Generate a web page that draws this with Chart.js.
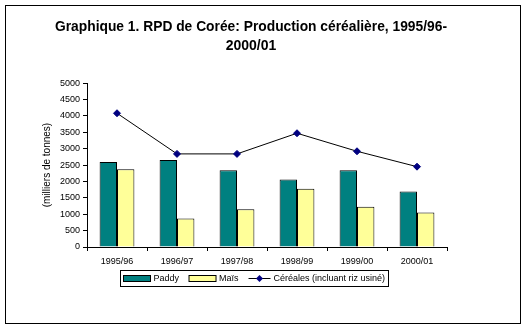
<!DOCTYPE html>
<html>
<head>
<meta charset="utf-8">
<script src="https://cdn.jsdelivr.net/npm/chart.js@4.4.0/dist/chart.umd.min.js"></script>
<style>
  html, body { margin: 0; padding: 0; background: #fff; }
  #wrap { width: 526px; height: 329px; position: relative; }
</style>
</head>
<body>
<div id="wrap"><canvas id="chart"></canvas></div>
<script>
// Données (milliers de tonnes)
const campagnes = ['1995/96', '1996/97', '1997/98', '1998/99', '1999/00', '2000/01'];
const paddy = [2590, 2650, 2340, 2060, 2340, 1690];
const mais = [2370, 870, 1150, 1780, 1230, 1050];
const cereales = [4080, 2840, 2840, 3470, 2920, 2450];
const yTicks = [0, 500, 1000, 1500, 2000, 2500, 3000, 3500, 4000, 4500, 5000];

const FONT = 'Arial, "Liberation Sans", sans-serif';

// Cadre extérieur + légende encadrée
const cadre = {
  id: 'cadre',
  afterDraw(chart) {
    const ctx = chart.ctx;
    ctx.save();
    ctx.strokeStyle = '#000';
    ctx.lineWidth = 1;
    ctx.strokeRect(5.5, 5.5, 515, 318);

    // légende
    const box = { x: 120.5, y: 270.5, w: 268, h: 16 };
    ctx.fillStyle = '#fff';
    ctx.fillRect(box.x, box.y, box.w, box.h);
    ctx.strokeRect(box.x, box.y, box.w, box.h);
    ctx.font = '9px ' + FONT;
    ctx.textBaseline = 'middle';
    const cy = box.y + box.h / 2;
    let x = box.x + 3;
    chart.data.datasets.forEach((ds) => {
      if (ds.type === 'line') {
        ctx.strokeStyle = '#000';
        ctx.beginPath();
        ctx.moveTo(x, cy);
        ctx.lineTo(x + 22, cy);
        ctx.stroke();
        ctx.fillStyle = ds.pointBackgroundColor;
        ctx.beginPath();
        ctx.moveTo(x + 11, cy - 3.5);
        ctx.lineTo(x + 14.5, cy);
        ctx.lineTo(x + 11, cy + 3.5);
        ctx.lineTo(x + 7.5, cy);
        ctx.closePath();
        ctx.fill();
        x += 25;
      } else {
        ctx.fillStyle = ds.backgroundColor;
        ctx.fillRect(x, cy - 3, 27, 6);
        ctx.strokeStyle = '#000';
        ctx.strokeRect(x, cy - 3, 27, 6);
        x += 30;
      }
      ctx.fillStyle = '#000';
      ctx.textAlign = 'left';
      ctx.fillText(ds.label, x, cy + 0.5);
      x += ctx.measureText(ds.label).width + 10;
    });
    ctx.restore();
  }
};

new Chart(document.getElementById('chart'), {
  type: 'bar',
  data: {
    labels: campagnes,
    datasets: [
      {
        label: 'Paddy',
        data: paddy,
        backgroundColor: '#008080',
        borderColor: '#000',
        borderWidth: 1,
        order: 2
      },
      {
        label: 'Maïs',
        data: mais,
        backgroundColor: '#FFFF99',
        borderColor: '#000',
        borderWidth: 1,
        order: 2
      },
      {
        type: 'line',
        label: 'Céréales (incluant riz usiné)',
        data: cereales,
        borderColor: '#000',
        borderWidth: 1,
        pointStyle: 'rectRot',
        pointRadius: 3.5,
        pointBackgroundColor: '#000080',
        pointBorderColor: '#000080',
        pointBorderWidth: 1,
        tension: 0,
        order: 1
      }
    ]
  },
  options: {
    responsive: true,
    maintainAspectRatio: false,
    animation: false,
    layout: { padding: { left: 55, right: 79, top: 0, bottom: 62 } },
    datasets: {
      bar: { categoryPercentage: 0.58, barPercentage: 1 }
    },
    plugins: {
      legend: { display: false },
      tooltip: { enabled: false },
      title: {
        display: true,
        text: ['Graphique 1. RPD de Corée: Production céréalière, 1995/96-', '2000/01'],
        color: '#000',
        font: { family: FONT, size: 14, weight: 'bold', lineHeight: 1.36 },
        padding: { top: 18, bottom: 27 }
      }
    },
    scales: {
      x: {
        grid: { offset: true, drawOnChartArea: false, color: '#000', tickLength: 4 },
        border: { color: '#000', width: 1 },
        ticks: { color: '#000', font: { family: FONT, size: 9 }, padding: 5, maxRotation: 0 },
        afterFit(scale) { scale.height = 20; }
      },
      y: {
        min: 0,
        max: 5000,
        afterBuildTicks(scale) { scale.ticks = yTicks.map(v => ({ value: v })); },
        grid: { drawOnChartArea: false, color: '#000', tickLength: 4 },
        border: { color: '#000', width: 1 },
        ticks: {
          color: '#000',
          font: { family: FONT, size: 9 },
          padding: 3,
          callback: (v) => String(v)
        },
        title: {
          display: true,
          text: '(milliers de tonnes)',
          color: '#000',
          font: { family: FONT, size: 10 },
          padding: { top: -14, bottom: 0 }
        },
        afterFit(scale) { scale.width = 32; }
      }
    }
  },
  plugins: [cadre]
});
</script>
</body>
</html>
